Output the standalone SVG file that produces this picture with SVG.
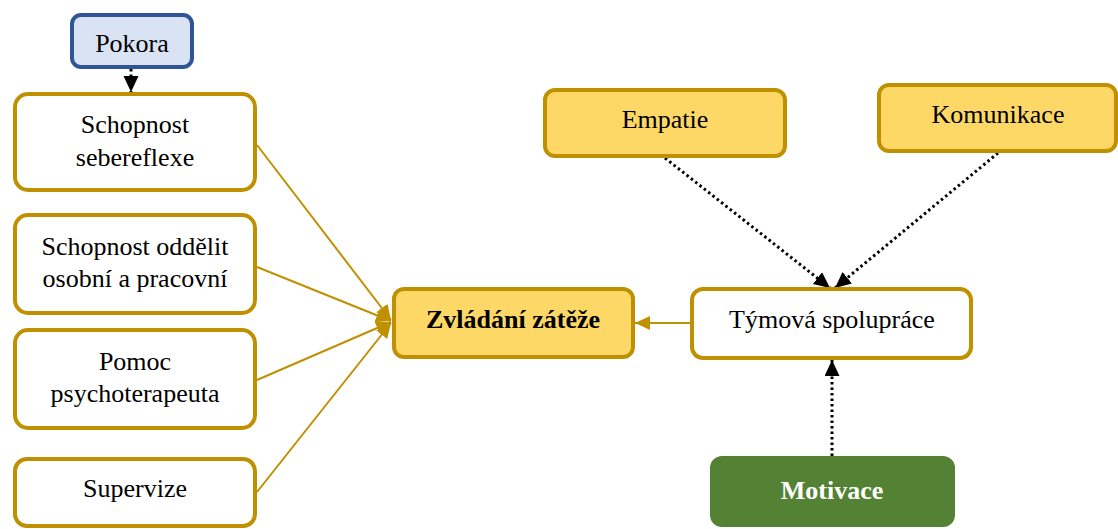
<svg xmlns="http://www.w3.org/2000/svg" width="1118" height="529" viewBox="0 0 1118 529">
  <defs>
    <style>
      .txt { font-family: "Liberation Serif", "Times New Roman", serif; font-size: 26px; fill: #000; text-anchor: middle; }
      .bold { font-weight: bold; }
      .white { fill: #fff; }
      .gold-box { fill: #fff; stroke: #bf9000; stroke-width: 4; }
      .yellow-box { fill: #fed866; stroke: #bf9000; stroke-width: 4; }
      .blue-box { fill: #dae3f3; stroke: #2f5597; stroke-width: 4; }
      .green-box { fill: #548235; stroke: none; }
      .gold-line { stroke: #bf9000; stroke-width: 2; fill: none; marker-end: url(#goldHead); }
      .dot-line { stroke: #000; stroke-width: 3; stroke-dasharray: 2.5 3; fill: none; marker-end: url(#blackHead); }
    </style>
    <marker id="goldHead" markerUnits="userSpaceOnUse" markerWidth="16" markerHeight="16" refX="15" refY="7" orient="auto">
      <path d="M0,0 L15,7 L0,14 z" fill="#bf9000"/>
    </marker>
    <marker id="blackHead" markerUnits="userSpaceOnUse" markerWidth="17" markerHeight="16" refX="16" refY="7.5" orient="auto">
      <path d="M0,0 L16,7.5 L0,15 z" fill="#000"/>
    </marker>
  </defs>

  <!-- connectors -->
  <g id="connectors">
    <line class="dot-line" x1="131" y1="69" x2="131" y2="92"/>
    <line class="gold-line" x1="257" y1="145" x2="391" y2="320"/>
    <line class="gold-line" x1="257" y1="267" x2="391" y2="321"/>
    <line class="gold-line" x1="257" y1="380" x2="391" y2="322"/>
    <line class="gold-line" x1="257" y1="492" x2="391" y2="323"/>
    <line class="gold-line" x1="690" y1="323" x2="635" y2="323"/>
    <line class="dot-line" x1="665" y1="158" x2="830" y2="288"/>
    <line class="dot-line" x1="998" y1="153" x2="835" y2="288"/>
    <line class="dot-line" x1="832" y1="456" x2="832" y2="360"/>
  </g>

  <g id="pokora">
    <rect class="blue-box" x="72" y="15" width="120" height="52" rx="9"/>
    <text class="txt" x="132" y="52">Pokora</text>
  </g>

  <g id="sebereflexe">
    <rect class="gold-box" x="15" y="94" width="240" height="96" rx="13"/>
    <text class="txt" x="135" y="133">Schopnost</text>
    <text class="txt" x="135" y="166">sebereflexe</text>
  </g>

  <g id="oddelit">
    <rect class="gold-box" x="15" y="215" width="240" height="98" rx="13"/>
    <text class="txt" x="135" y="255">Schopnost oddělit</text>
    <text class="txt" x="135" y="287">osobní a pracovní</text>
  </g>

  <g id="psychoterapeut">
    <rect class="gold-box" x="15" y="330" width="240" height="98" rx="13"/>
    <text class="txt" x="135" y="370">Pomoc</text>
    <text class="txt" x="135" y="402">psychoterapeuta</text>
  </g>

  <g id="supervize">
    <rect class="gold-box" x="15" y="459" width="240" height="67" rx="12"/>
    <text class="txt" x="135" y="497">Supervize</text>
  </g>

  <g id="zvladani">
    <rect class="yellow-box" x="394" y="289" width="239" height="68" rx="10"/>
    <text class="txt bold" x="513" y="328">Zvládání zátěže</text>
  </g>

  <g id="empatie">
    <rect class="yellow-box" x="545" y="90" width="240" height="66" rx="10"/>
    <text class="txt" x="665" y="128">Empatie</text>
  </g>

  <g id="komunikace">
    <rect class="yellow-box" x="879" y="85" width="237" height="66" rx="10"/>
    <text class="txt" x="998" y="123">Komunikace</text>
  </g>

  <g id="tymova">
    <rect class="gold-box" x="692" y="289" width="279" height="69" rx="11"/>
    <text class="txt" x="832" y="328">Týmová spolupráce</text>
  </g>

  <g id="motivace">
    <rect class="green-box" x="710" y="456" width="245" height="71" rx="12"/>
    <text class="txt bold white" x="832" y="499">Motivace</text>
  </g>
</svg>
